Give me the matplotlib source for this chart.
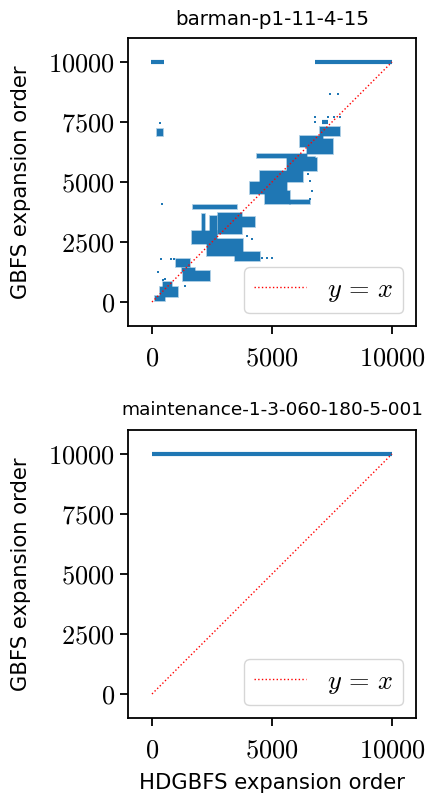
import matplotlib
matplotlib.use("Agg")
import matplotlib.pyplot as plt
from matplotlib.ticker import FuncFormatter

plt.rcParams['mathtext.fontset'] = 'cm'
plt.rcParams['font.family'] = ['DejaVu Sans']

BLUE = '#1f77b4'

# ---------------- data: barman-p1-11-4-15 ----------------
title_top = "barman-p1-11-4-15"
# dense clusters of points (HDGBFS x0, x1, GBFS y0, y1)
clu_x0 = [125, 334, 473, 1000, 1307, 1237, 1724, 2766, 3392, 2071, 2419, 1654,
          2280, 3462, 4365, 5616, 4504, 4087, 4712, 5755, 7006, 6172, 6450, 6172, 195]
clu_x1 = [540, 1100, 820, 1585, 2419, 1793, 3531, 3740, 4300, 2210, 2697, 2700,
          3809, 4504, 6450, 6867, 6311, 5616, 5755, 6590, 7840, 7145, 7562, 6797, 473]
clu_y0 = [56, 195, 612, 1445, 890, 1237, 3878, 2836, 3114, 2905, 2836, 2420,
          1932, 1724, 5991, 5477, 4990, 4504, 4087, 4100, 6936, 6450, 6172, 5685, 6936]
clu_y1 = [264, 612, 850, 1793, 1307, 1400, 4050, 3712, 3531, 3670, 3600, 2975,
          2627, 2071, 6172, 5991, 5477, 4990, 4643, 4230, 7284, 6936, 6797, 6033, 7214]
# thin streaks of points (x0, x1, y)
str_x0 = [-40, 6800, 7075]
str_x1 = [500, 10000, 7353]
str_y = [10000, 10000, 7492]
# isolated points
pt_x = [361, 778, 917, 264, 473, 612, 4573, 4800, 4990, 7423, 7770, 6797, 6797,
        7353, 7600, 7840, 334, 431, 3948, 4156, 6520, 6589, 6659, 6589, 542, 1376]
pt_y = [1793, 1793, 1793, 1237, 931, 681, 1835, 1835, 1835, 8674, 8674, 7701,
        7492, 7701, 7701, 7701, 7464, 4100, 2766, 2627, 5338, 5060, 4643, 4295, 959, 681]

# ---------------- data: maintenance ----------------
title_bot = "maintenance-1-3-060-180-5-001"
m_str_x0 = [0]
m_str_x1 = [10000]
m_str_y = [10000]

diag = [0, 10000]
ticks = [0, 2500, 5000, 7500, 10000]
xticks = [0, 5000, 10000]

fig = plt.figure(figsize=(4.28, 7.98), dpi=100)
ax1 = fig.add_axes([128/428, (798-326)/798, 288/428, 288/798])
ax2 = fig.add_axes([128/428, (798-718)/798, 288/428, 288/798])

fmt = FuncFormatter(lambda v, p: r'$%d$' % v)

def style(ax, title, tsize, tpad):
    ax.set_xlim(-1000, 11000)
    ax.set_ylim(-1000, 11000)
    ax.set_xticks(xticks)
    ax.set_yticks(ticks)
    ax.xaxis.set_major_formatter(fmt)
    ax.yaxis.set_major_formatter(fmt)
    ax.tick_params(labelsize=19, length=6, width=1.3)
    ax.tick_params(axis='x', pad=8)
    for s in ax.spines.values():
        s.set_linewidth(1.3)
    ax.set_title(title, fontsize=tsize, pad=tpad)
    ax.set_ylabel("GBFS expansion order", fontsize=15.2, labelpad=12)

def legend(ax):
    ax.legend(loc='lower right', fontsize=19, handlelength=2.0, borderpad=0.35,
              framealpha=0.8, edgecolor='#cccccc', fancybox=True)

# top
ax1.bar(clu_x0, [b - a for a, b in zip(clu_y0, clu_y1)],
        width=[b - a for a, b in zip(clu_x0, clu_x1)], bottom=clu_y0,
        align='edge', color=BLUE, linewidth=1.2, edgecolor=(0.12, 0.47, 0.71, 0.45))
ax1.hlines(str_y, str_x0, str_x1, color=BLUE, linewidth=3)
ax1.scatter(pt_x, pt_y, s=4, color=BLUE, marker='s', linewidths=0)
ax1.plot(diag, diag, color='red', linestyle=':', linewidth=1, label=r'$y \,=\, x$')
style(ax1, title_top, 14.3, 9.5)
legend(ax1)

# bottom
ax2.hlines(m_str_y, m_str_x0, m_str_x1, color=BLUE, linewidth=3)
ax2.plot(diag, diag, color='red', linestyle=':', linewidth=1, label=r'$y \,=\, x$')
style(ax2, title_bot, 13.3, 10.8)
ax2.set_xlabel("HDGBFS expansion order", fontsize=15.2, labelpad=7)
legend(ax2)

fig.savefig('out.png', dpi=100)
